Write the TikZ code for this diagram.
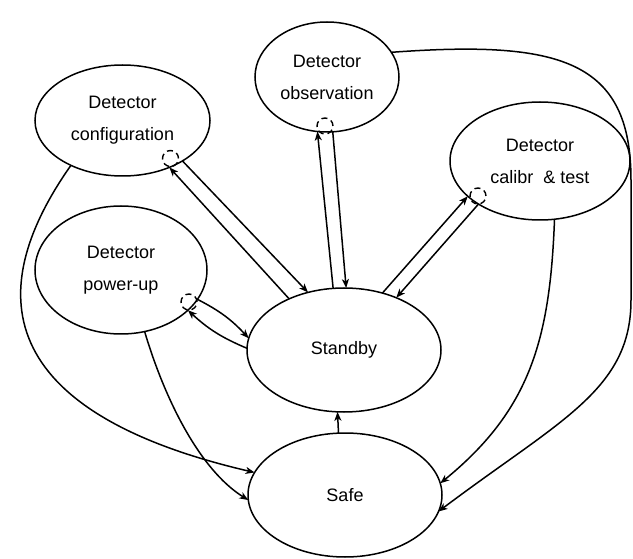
\documentclass[tikz,border=0pt]{standalone}
\usepackage{fontspec}
\setmainfont{Liberation Sans}
\usetikzlibrary{shapes.geometric,arrows.meta,calc}
\begin{document}
\begin{tikzpicture}[x=1pt,y=-1pt,
  state/.style={ellipse,draw,line width=1.5pt,inner sep=0pt,outer sep=0pt,align=center,font=\fontsize{18}{32}\selectfont},
  conn/.style={line width=1.5pt,-{Stealth[length=9pt,width=7pt,inset=2.5pt]}},
  dashring/.style={circle,draw,dash pattern=on 6pt off 4pt,line width=1.4pt,minimum size=16pt,inner sep=0pt}
]
\useasboundingbox (0,0) rectangle (633,559);
\node[state,minimum width=175pt,minimum height=111pt] (conf) at (122.5,120.5) {Detector\\configuration};
\node[state,minimum width=144pt,minimum height=110pt] (obs) at (327,77) {Detector\\observation};
\node[state,minimum width=180pt,minimum height=118pt] (cal) at (540,161) {Detector\\calibr~~\& test};
\node[state,minimum width=172pt,minimum height=128pt] (pwr) at (121,270) {Detector\\power-up};
\node[state,minimum width=194pt,minimum height=124pt] (stb) at (344,350) {Standby};
\node[state,minimum width=194pt,minimum height=124pt] (safe) at (345,495) {Safe};

\node[dashring] (dconf) at ($(conf)+(48,38)$) {};
\node[dashring] (dobs) at ($(obs)+(-2,49)$) {};
\node[dashring] (dcal) at ($(cal)+(-62,35)$) {};
\node[dashring] (dpwr) at ($(pwr)+(68,32)$) {};

\coordinate (r1) at (631,180);
\coordinate (r2) at (631,300);

\draw[conn] (conf.221) .. controls (-45,330) and (50,425) .. (safe.166);
\draw[conn] (pwr.-69) .. controls (165,400) and (200,470) .. (safe.183);
\draw[conn] (obs.21) .. controls (560,40) and (631,60) .. (r1) -- (r2) .. controls (631,390) and (560,420) .. (safe.-10);
\draw[conn] (cal.-76) .. controls (550,340) and (530,410) .. (safe.7);
\draw[conn] (safe.96) -- (stb.264);
\draw[conn] (stb.137) -- (conf.-45);
\draw[conn] (conf.-34) -- (stb.122);
\draw[conn] (stb.100) -- (obs.260);
\draw[conn] (obs.-84) -- (stb.88);
\draw[conn] (stb.56) -- (cal.206);
\draw[conn] (cal.215) -- (stb.45);
\draw[conn] (pwr.-21) to[bend left=10] (stb.173);
\draw[conn] (stb.179) to[bend left=10] (pwr.-31);
\end{tikzpicture}
\end{document}
